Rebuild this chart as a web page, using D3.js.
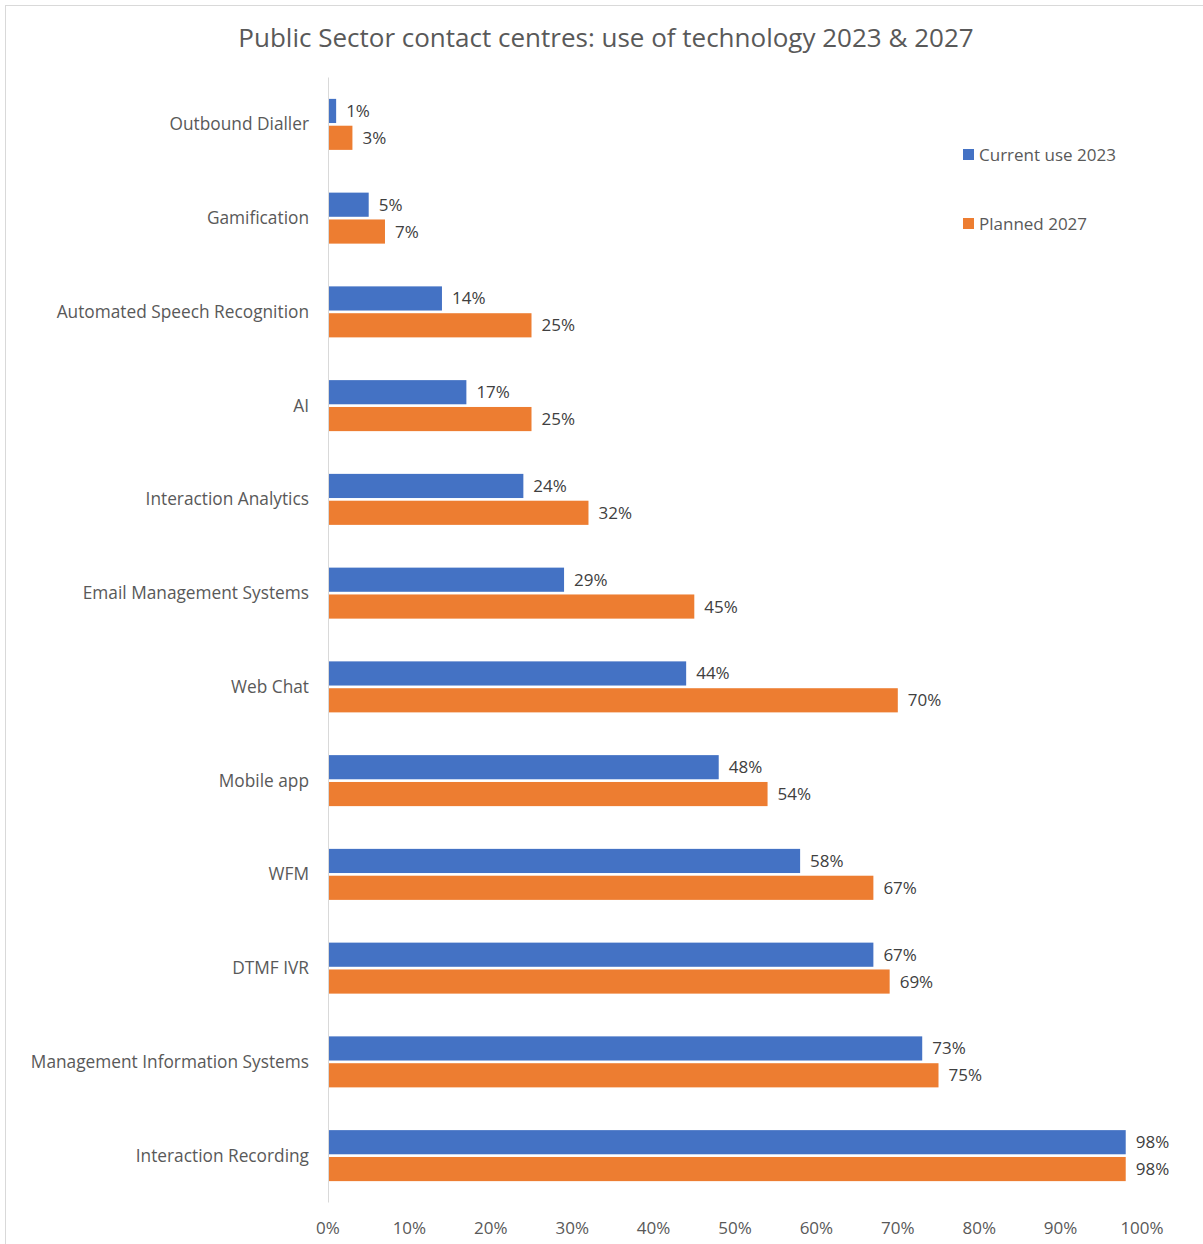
<!doctype html>
<html lang="en">
<head>
  <meta charset="utf-8">
  <title>Public Sector contact centres</title>
  <script src="https://d3js.org/d3.v7.min.js"></script>
  <style>
    body { margin: 0; background: #fff; }
    text { font-family: "Open Sans", Lato, sans-serif; }
  </style>
</head>
<body>
<svg id="chart" width="1203" height="1244"></svg>
<script>
// chart data, top to bottom as drawn
var categories = ["Outbound Dialler", "Gamification", "Automated Speech Recognition", "AI",
  "Interaction Analytics", "Email Management Systems", "Web Chat", "Mobile app", "WFM",
  "DTMF IVR", "Management Information Systems", "Interaction Recording"];
var current2023 = [0.01, 0.05, 0.14, 0.17, 0.24, 0.29, 0.44, 0.48, 0.58, 0.67, 0.73, 0.98];
var planned2027 = [0.03, 0.07, 0.25, 0.25, 0.32, 0.45, 0.70, 0.54, 0.67, 0.69, 0.75, 0.98];
var seriesNames = ["Current use 2023", "Planned 2027"];
var xTicks = [0, 0.1, 0.2, 0.3, 0.4, 0.5, 0.6, 0.7, 0.8, 0.9, 1.0];

var colors = ["#4472c4", "#ed7d31"];
var series = [current2023, planned2027];

var svg = d3.select("#chart");

// outer chart border (partly cut off like the original)
svg.append("rect")
  .attr("x", 5.5).attr("y", 5.5)
  .attr("width", 1210).attr("height", 1260)
  .attr("fill", "none").attr("stroke", "#d9d9d9");

svg.append("text")
  .attr("x", 606).attr("y", 47)
  .attr("text-anchor", "middle")
  .attr("font-size", 26)
  .attr("fill", "#595959")
  .text("Public Sector contact centres: use of technology 2023 & 2027");

var x = d3.scaleLinear().domain([0, 1]).range([328, 1142]);
var y = d3.scaleBand().domain(categories).range([77.5, 1202.5]);
var inner = d3.scaleBand().domain([0, 1]).range([0, 51]).paddingInner(0.1);

var fmt = d3.format(".0%");

// value axis labels
svg.append("g")
  .selectAll("text")
  .data(xTicks)
  .enter()
  .append("text")
    .attr("x", function(d) { return x(d); })
    .attr("y", 1234)
    .attr("text-anchor", "middle")
    .attr("font-size", 17)
    .attr("fill", "#595959")
    .text(fmt);

// bars
var groups = svg.append("g")
  .selectAll("g")
  .data(categories)
  .enter()
  .append("g")
    .attr("transform", function(d) {
      return "translate(0," + (y(d) + y.bandwidth() / 2 - 25.5) + ")";
    });

groups.each(function(cat, i) {
  var g = d3.select(this);
  [0, 1].forEach(function(s) {
    var v = series[s][i];
    g.append("rect")
      .attr("x", x(0))
      .attr("y", inner(s))
      .attr("width", x(v) - x(0))
      .attr("height", inner.bandwidth())
      .attr("fill", colors[s]);
    g.append("text")
      .attr("x", x(v) + 10)
      .attr("y", inner(s) + inner.bandwidth() / 2 + 6)
      .attr("font-size", 17)
      .attr("fill", "#404040")
      .text(fmt(v));
  });
});

// category labels
svg.append("g")
  .selectAll("text")
  .data(categories)
  .enter()
  .append("text")
    .attr("x", 309)
    .attr("y", function(d) { return y(d) + y.bandwidth() / 2 + 6; })
    .attr("text-anchor", "end")
    .attr("font-size", 17.3)
    .attr("fill", "#595959")
    .text(function(d) { return d; });

// category axis line
svg.append("line")
  .attr("x1", 328.5).attr("x2", 328.5)
  .attr("y1", 77.5).attr("y2", 1202.5)
  .attr("stroke", "#d9d9d9");

// legend
var legend = svg.append("g")
  .selectAll("g")
  .data(seriesNames)
  .enter()
  .append("g")
    .attr("transform", function(d, i) { return "translate(963," + (149 + i * 69) + ")"; });
legend.append("rect")
  .attr("width", 11).attr("height", 11)
  .attr("fill", function(d, i) { return colors[i]; });
legend.append("text")
  .attr("x", 16).attr("y", 11.5)
  .attr("font-size", 17)
  .attr("fill", "#595959")
  .text(function(d) { return d; });
</script>
</body>
</html>
